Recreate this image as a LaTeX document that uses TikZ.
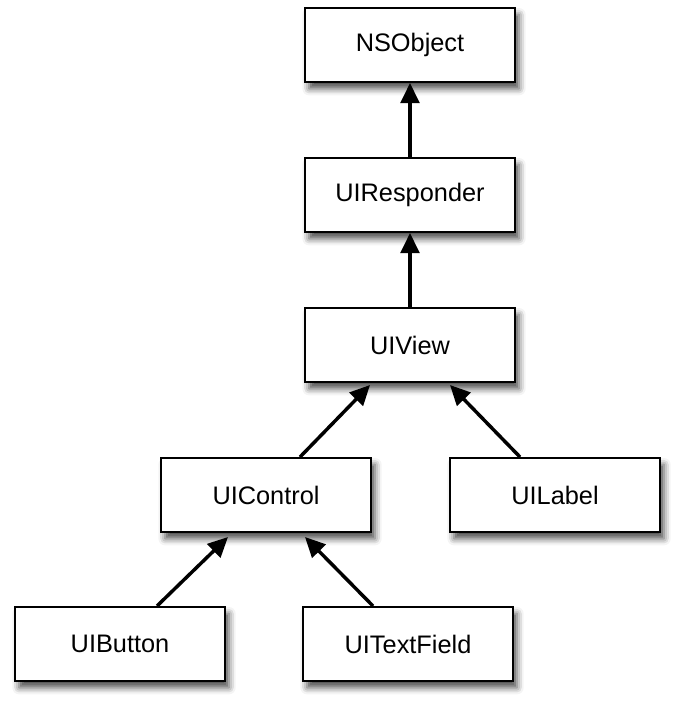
\documentclass[tikz,border=0pt]{standalone}
\usepackage{fontspec}
\setmainfont{Liberation Sans}
\usetikzlibrary{shadows.blur,arrows.meta}
\begin{document}
\begin{tikzpicture}[x=0.75pt,y=-0.75pt,
  cls/.style={draw=black,line width=1.5pt,fill=white,minimum width=157.5pt,minimum height=55.5pt,inner sep=0pt,font=\fontsize{19}{21}\selectfont,
    blur shadow={shadow xshift=3pt,shadow yshift=-5pt,shadow blur radius=5pt,shadow opacity=70}},
  inh/.style={line width=2.6pt,-{Triangle[length=15pt,width=14pt]}}]
\useasboundingbox (0,0) rectangle (676,707);
\node[cls] (ns) at (410,45) {NSObject};
\node[cls] (resp) at (410,195) {UIResponder};
\node[cls] (view) at (410,345) {UIView};
\node[cls] (ctrl) at (266,495) {UIControl};
\node[cls] (label) at (555,495) {UILabel};
\node[cls] (btn) at (120,644) {UIButton};
\node[cls] (tf) at (408,644) {UITextField};
\draw[inh] (resp.north) -- (ns.south);
\draw[inh] (view.north) -- (resp.south);
\draw[inh] (ctrl.north -| 300,0) -- (370,385);
\draw[inh] (label.north -| 520,0) -- (450,385);
\draw[inh] (btn.north -| 157,0) -- (228,537);
\draw[inh] (tf.north -| 373,0) -- (305,537);
\end{tikzpicture}
\end{document}
